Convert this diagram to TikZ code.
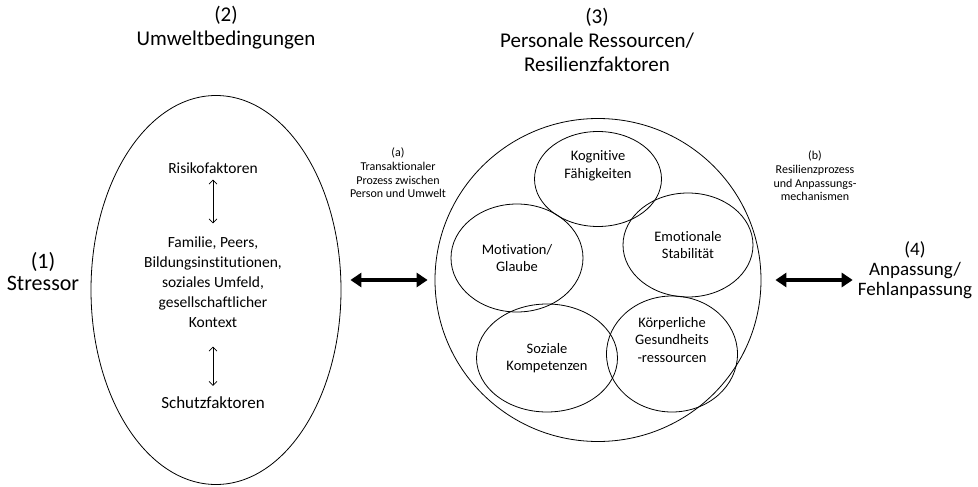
\documentclass[tikz,border=0pt]{standalone}
\usepackage{fontspec}
\setmainfont{Carlito}[Ligatures=NoCommon]
\usetikzlibrary{shapes.geometric,arrows.meta}

\begin{document}
\begin{tikzpicture}[x=1pt,y=-1pt]
	\tikzstyle{title}=[align=center, inner sep=0pt, font=\fontsize{21}{24}\selectfont]
	\tikzstyle{envtext}=[align=center, inner sep=0pt, font=\fontsize{15.5}{20}\selectfont]
	\tikzstyle{note}=[align=center, inner sep=0pt, font=\fontsize{12}{13.6}\selectfont]
	\tikzstyle{shell}=[ellipse, draw=black, line width=0.8pt, inner sep=0pt]
	\tikzstyle{factor}=[ellipse, draw=black, line width=0.8pt, inner sep=0pt, align=center, font=\fontsize{14.5}{17.5}\selectfont]
	\tikzstyle{bigarrow}=[{Triangle[length=11pt,width=14pt]}-{Triangle[length=11pt,width=14pt]}, line width=3.5pt]
	\tikzstyle{smallarrow}=[{Straight Barb[length=4pt,width=8pt]}-{Straight Barb[length=4pt,width=8pt]}, line width=0.7pt]

	\useasboundingbox (0,0) rectangle (978,487);

	% Headings
	\node at (43, 272) [title, font=\fontsize{22}{22}\selectfont] (stressor) {(1)\\Stressor};
	\node at (226, 28) [title] (envtitle) {(2)\\Umweltbedingungen};
	\node at (597, 40) [title] (restitle) {(3)\\Personale Ressourcen/\\Resilienzfaktoren};
	\node at (915, 270) [title, font=\fontsize{19}{20}\selectfont] (outcome) {(4)\\Anpassung/\\Fehlanpassung};

	% Umwelt
	\node at (216, 290) [shell, minimum width=250pt, minimum height=389pt] (env) {};
	\node at (213, 168) [envtext] (risk) {Risikofaktoren};
	\node at (213, 282) [envtext] (ctx) {Familie, Peers,\\Bildungsinstitutionen,\\soziales Umfeld,\\gesellschaftlicher\\Kontext};
	\node at (213, 403) [envtext, font=\fontsize{17}{20}\selectfont] (protect) {Schutzfaktoren};
	\draw [smallarrow, shorten <=6pt, shorten >=13pt] (risk.south) -- (risk.south |- ctx.north);
	\draw [smallarrow, shorten <=19pt, shorten >=11pt] (risk.south |- ctx.south) -- (risk.south |- protect.north);

	% Ressourcen
	\node at (598, 280) [shell, minimum width=326pt, minimum height=323pt] (res) {};
	\node at (598, 179) [factor, minimum width=127pt, minimum height=95pt, text depth=29pt] (cog) {Kognitive\\Fähigkeiten};
	\node at (688, 245) [factor, minimum width=130pt, minimum height=104pt] (emo) {Emotionale\\Stabilität};
	\node at (517, 258) [factor, minimum width=132pt, minimum height=108pt] (mot) {Motivation/\\Glaube};
	\node at (547, 358) [factor, minimum width=141pt, minimum height=108pt] (soc) {Soziale\\Kompetenzen};
	\node at (672, 354) [factor, minimum width=131pt, minimum height=116pt, text depth=29pt] (body) {Körperliche\\Gesundheits\\-ressourcen};

	% Prozesse
	\node at (398, 173) [note] (trans) {(a)\\Transaktionaler\\Prozess zwischen\\Person und Umwelt};
	\node at (815, 176) [note] (resil) {(b)\\Resilienzprozess\\und Anpassungs-\\mechanismen};
	\draw [bigarrow, shorten <=9pt, shorten >=7pt] (env.east |- res.west) -- (res.west);
	\draw [bigarrow, shorten <=14pt, shorten >=5pt] (res.east) -- (outcome.west |- res.east);
\end{tikzpicture}
\end{document}
